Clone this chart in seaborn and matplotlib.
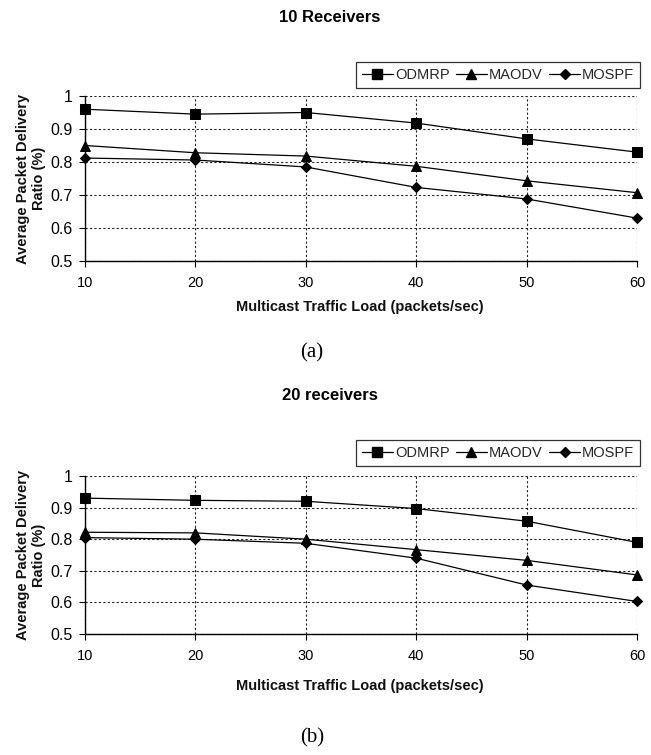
import matplotlib
matplotlib.use("Agg")
import matplotlib.pyplot as plt
import seaborn as sns
import pandas as pd
from matplotlib.lines import Line2D

load = [10, 20, 30, 40, 50, 60]
protocols = ["ODMRP", "MAODV", "MOSPF"]

odmrp_10 = [0.960, 0.945, 0.950, 0.918, 0.870, 0.830]
maodv_10 = [0.850, 0.828, 0.818, 0.787, 0.743, 0.707]
mospf_10 = [0.812, 0.806, 0.785, 0.723, 0.688, 0.630]

odmrp_20 = [0.930, 0.923, 0.920, 0.897, 0.857, 0.790]
maodv_20 = [0.822, 0.820, 0.800, 0.767, 0.733, 0.687]
mospf_20 = [0.805, 0.800, 0.787, 0.740, 0.655, 0.603]

y_ticks = [0.5, 0.6, 0.7, 0.8, 0.9, 1.0]
y_tick_labels = ["0.5", "0.6", "0.7", "0.8", "0.9", "1"]

titles = ["10 Receivers", "20 receivers"]
captions = ["(a)", "(b)"]
xlabel = "Multicast Traffic Load (packets/sec)"
ylabel = "Average Packet Delivery\nRatio (%)"


def make_df(a, b, c):
    rows = []
    for name, vals in zip(protocols, [a, b, c]):
        for x, v in zip(load, vals):
            rows.append({"load": x, "ratio": v, "protocol": name})
    return pd.DataFrame(rows)


sns.set_theme(style="white")
plt.rcParams["font.family"] = ["Liberation Sans", "DejaVu Sans"]

W, H = 651, 755
fig = plt.figure(figsize=(W / 100, H / 100), dpi=100)


def pix_axes(left, top, right, bottom):
    return fig.add_axes([left / W, 1 - bottom / H, (right - left) / W, (bottom - top) / H])


markers = {"ODMRP": "s", "MAODV": "^", "MOSPF": "D"}
msizes = {"ODMRP": 6.5, "MAODV": 7, "MOSPF": 5}

panels = [
    (make_df(odmrp_10, maodv_10, mospf_10), (85, 96, 637, 261), 18, 307, 353, (362, 62, 640, 87)),
    (make_df(odmrp_20, maodv_20, mospf_20), (85, 476, 637, 634), 396, 686, 738, (358, 440, 640, 465)),
]

for i, (df, box, ty, xly, cy, lbox) in enumerate(panels):
    ax = pix_axes(*box)
    for name in protocols:
        sub = df[df["protocol"] == name]
        sns.lineplot(data=sub, x="load", y="ratio", ax=ax, color="black",
                     marker=markers[name], markersize=msizes[name], linewidth=0.9,
                     markeredgecolor="black", legend=False, zorder=3)
    ax.set_xlim(10, 60)
    ax.set_ylim(0.5, 1.0)
    ax.set_xticks(load)
    ax.set_xticklabels([str(x) for x in load], fontsize=10.5)
    ax.set_yticks(y_ticks)
    ax.set_yticklabels(y_tick_labels, fontsize=11.5)
    ax.grid(True, color="#222222", linestyle=(0, (2, 2)), linewidth=0.8)
    for s in ["top", "right"]:
        ax.spines[s].set_visible(False)
    for s in ["left", "bottom"]:
        ax.spines[s].set_color("black")
        ax.spines[s].set_linewidth(1.0)
    ax.tick_params(axis="both", which="major", direction="out", length=4, width=0.8,
                   colors="black", bottom=True, left=True, pad=5)
    ax.tick_params(axis="x", pad=7)
    ax.set_xlabel("")
    ax.set_ylabel("")
    for ln in ax.lines:
        ln.set_clip_on(False)

    fig.text(330 / W, 1 - ty / H, titles[i], ha="center", va="center",
             fontsize=12, fontweight="bold", color="black")
    fig.text(360 / W, 1 - xly / H, xlabel, ha="center", va="center",
             fontsize=10.5, fontweight="bold", color="#111111")
    fig.text(312 / W, 1 - cy / H, captions[i], ha="center", va="center",
             fontsize=15, family=["Liberation Serif", "DejaVu Serif"], color="black")
    cyl = (box[1] + box[3]) / 2
    fig.text(31 / W, 1 - cyl / H, ylabel, ha="center", va="center", rotation=90,
             fontsize=10.5, fontweight="bold", color="#111111", linespacing=1.1)

    handles = [Line2D([0], [0], color="black", lw=0.9, marker=markers[n],
                      markersize=msizes[n], markeredgecolor="black") for n in protocols]
    lx0, ly0, lx1, ly1 = lbox
    leg = fig.legend(handles, protocols, loc="upper right",
                     bbox_to_anchor=(lx1 / W, 1 - ly0 / H), ncol=3, frameon=True,
                     fancybox=False, edgecolor="black", fontsize=10.5, handlelength=2.1,
                     handletextpad=0.15, columnspacing=0.45, borderpad=0.4,
                     borderaxespad=0)
    leg.get_frame().set_linewidth(0.9)

fig.savefig("out.png", dpi=100, facecolor="white")
